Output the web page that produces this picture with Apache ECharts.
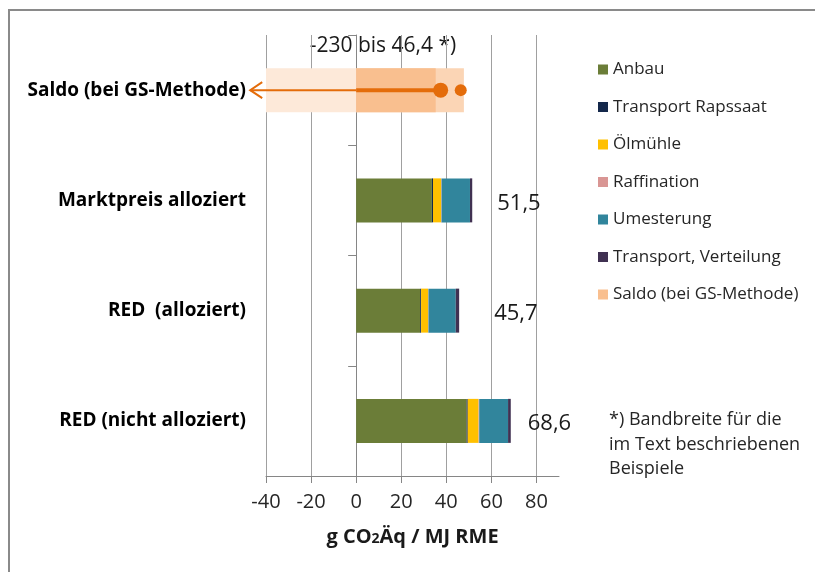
<!DOCTYPE html>
<html>
<head>
<meta charset="utf-8">
<script src="https://cdn.jsdelivr.net/npm/echarts@6/dist/echarts.min.js"></script>
<style>
html,body{margin:0;padding:0;background:#fff;}
#c{width:815px;height:572px;}
</style>
</head>
<body>
<div id="c"></div>
<script>
// ---- data ----
const categories = ['RED (nicht alloziert)', 'RED  (alloziert)', 'Marktpreis alloziert', 'Saldo (bei GS-Methode)'];
const anbau = [49.0, 28.4, 33.6, '-'];
const transportRapssaat = [0.5, 0.4, 0.5, '-'];
const oelmuehle = [4.8, 3.1, 3.6, '-'];
const raffination = [0.3, 0.2, 0.2, '-'];
const umesterung = [12.8, 12.1, 12.6, '-'];
const transportVerteilung = [1.2, 1.5, 1.0, '-'];
const saldo = ['-', '-', '-', 35.3];
const saldoRangeLow = ['-', '-', '-', -230];
const saldoRangeHigh = ['-', '-', '-', 47.8];
const totals = [68.6, 45.7, 51.5];
const saldoLineStart = -47;   // arrow continues beyond axis (to -230)
const saldoPoint = 37.5;
const saldoMax = 46.4;
const xTicks = [-40, -20, 0, 20, 40, 60, 80];
const rangeText = '-230 bis 46,4 *)';
const footnote = ['*) Bandbreite für die', 'im Text beschriebenen', 'Beispiele'];

// ---- build ----
const FONT = '"Open Sans", sans-serif';
const ORANGE = '#E46C0A';
const saldoCat = categories[3];
const compNames = ['Anbau', 'Transport Rapssaat', 'Ölmühle', 'Raffination', 'Umesterung', 'Transport, Verteilung'];
const compData = [anbau, transportRapssaat, oelmuehle, raffination, umesterung, transportVerteilung];
const compColors = ['#6B7D38', '#14284B', '#FFC000', '#D99694', '#31859C', '#403152'];
const labelGap = [17, 35, 25];

const series = [];
series.push({
  name: 'bandLow', type: 'bar', stack: 'band', data: saldoRangeLow, barWidth: 44, barGap: '-100%',
  itemStyle: { color: '#FDE9D9' }, silent: true
});
series.push({
  name: 'bandHigh', type: 'bar', stack: 'band', data: saldoRangeHigh, barWidth: 44, barGap: '-100%',
  itemStyle: { color: '#FBD5B5' }, silent: true
});
compNames.forEach((n, i) => {
  const isLast = i === compNames.length - 1;
  const data = compData[i].map((v, j) => {
    if (!isLast || j >= totals.length) return v;
    return {
      value: v,
      label: { show: true, position: 'right', distance: labelGap[j], offset: [0, 3],
        formatter: () => String(totals[j]).replace('.', ','),
        fontSize: 22, color: '#1a1a1a', fontFamily: FONT }
    };
  });
  series.push({
    name: n, type: 'bar', stack: 'total', data: data, barWidth: 44, barGap: '-100%',
    itemStyle: { color: compColors[i] }
  });
});
series.push({
  name: 'Saldo (bei GS-Methode)', type: 'bar', stack: 'total', data: saldo, barWidth: 44, barGap: '-100%',
  itemStyle: { color: '#F9BF8F' }
});
series.push({
  type: 'line', data: [[saldoLineStart, saldoCat], [0, saldoCat]], clip: false, showSymbol: false,
  lineStyle: { color: ORANGE, width: 2 }, z: 5, silent: true
});
series.push({
  type: 'line', data: [[0, saldoCat], [saldoPoint, saldoCat]], clip: false, showSymbol: false,
  lineStyle: { color: ORANGE, width: 4 }, z: 5, silent: true
});
series.push({
  type: 'scatter', data: [{ value: [saldoPoint, saldoCat], symbolSize: 15 }, { value: [saldoMax, saldoCat], symbolSize: 12 }],
  itemStyle: { color: ORANGE, opacity: 1 }, z: 6, silent: true
});
series.push({
  type: 'custom', data: [[saldoLineStart, 3]], z: 6, silent: true,
  renderItem: function (params, api) {
    const p = api.coord([api.value(0), api.value(1)]);
    return {
      type: 'polyline',
      shape: { points: [[p[0] + 12, p[1] - 8], [p[0], p[1]], [p[0] + 12, p[1] + 8]] },
      style: { stroke: ORANGE, lineWidth: 2, fill: null }
    };
  }
});

const chart = echarts.init(document.getElementById('c'), null, { renderer: 'canvas' });
chart.setOption({
  backgroundColor: '#ffffff',
  animation: false,
  textStyle: { fontFamily: FONT },
  grid: { left: 266, right: 256, top: 35, bottom: 96, containLabel: false },
  legend: {
    data: compNames.concat(['Saldo (bei GS-Methode)']),
    orient: 'vertical', left: 593, top: 53, itemWidth: 10, itemHeight: 10, itemGap: 14.5,
    icon: 'rect', textStyle: { fontSize: 17, color: '#262626', fontFamily: FONT, lineHeight: 23 },
    selectedMode: false
  },
  xAxis: {
    type: 'value', min: -40, max: 90, interval: 20,
    axisLine: { show: true, lineStyle: { color: '#868686', width: 1 } },
    axisTick: { show: true, length: 7, lineStyle: { color: '#868686' } },
    axisLabel: { fontSize: 20, color: '#262626', margin: 16, showMaxLabel: false, fontFamily: FONT,
      formatter: v => xTicks.indexOf(v) >= 0 ? String(v) : '' },
    splitLine: { show: true, showMaxLine: false, lineStyle: { color: '#A0A0A0', width: 1 } },
    name: '{b|g CO}{s|2}{b|Äq / MJ RME}', nameLocation: 'middle', nameGap: 51,
    nameTextStyle: { rich: {
      b: { fontSize: 20, fontWeight: 'bold', color: '#1a1a1a', fontFamily: FONT },
      s: { fontSize: 14, fontWeight: 'bold', color: '#1a1a1a', fontFamily: FONT, padding: [5, 0, 0, 0] }
    } }
  },
  yAxis: [{
    type: 'category', data: categories,
    axisLine: { show: false, onZero: false }, axisTick: { show: false },
    axisLabel: { fontSize: 19, fontWeight: 'bold', color: '#000', margin: 20, fontFamily: FONT },
    splitLine: { show: false }
  }, {
    type: 'category', data: categories, position: 'left',
    axisLine: { show: true, onZero: true, lineStyle: { color: '#868686' } },
    axisTick: { show: true, length: 8, lineStyle: { color: '#868686' } },
    axisLabel: { show: false }, splitLine: { show: false }
  }],
  graphic: [
    { type: 'line', shape: { x1: 8, y1: 10, x2: 815, y2: 10 }, style: { stroke: '#8A8A8A', lineWidth: 2 }, silent: true, z: 100 },
    { type: 'line', shape: { x1: 9, y1: 9, x2: 9, y2: 572 }, style: { stroke: '#8A8A8A', lineWidth: 2 }, silent: true, z: 100 },
    { type: 'text', x: 383, y: 46, style: { text: rangeText, fontSize: 21, fill: '#1a1a1a', fontFamily: FONT, align: 'center', verticalAlign: 'middle' } },
    { type: 'text', x: 609, y: 408, style: { text: footnote.join('\n'), fontSize: 18, lineHeight: 24.5, fill: '#262626', fontFamily: FONT, align: 'left', verticalAlign: 'top' } }
  ],
  series: series
});
</script>
</body>
</html>
